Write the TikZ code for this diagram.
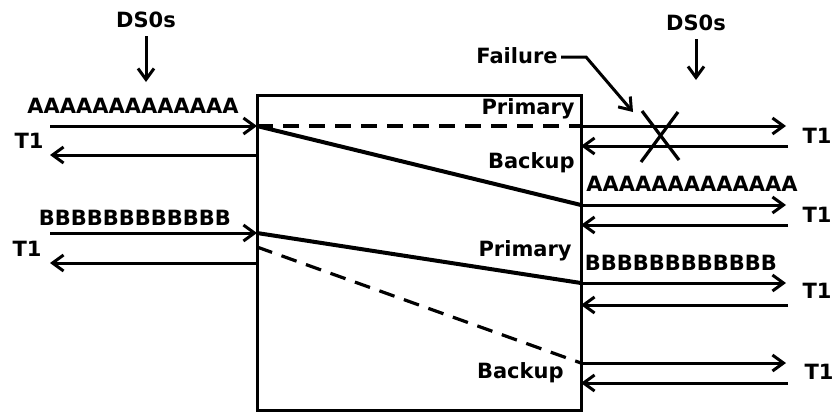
\documentclass[tikz,border=0pt]{standalone}
\usepackage{fontspec}
\setmainfont{DejaVu Sans}
\usetikzlibrary{arrows.meta, positioning, calc}

\tikzset{
  lbl/.style={font=\bfseries\fontsize{10.5}{12}\selectfont, inner sep=0pt},
  link/.style={line width=1.5pt, -{Straight Barb[length=5.5pt,width=8pt]}},
  route/.style={line width=2pt},
  spare/.style={line width=1.6pt, dash pattern=on 8pt off 5pt},
}

\begin{document}
\begin{tikzpicture}[x=0.5pt, y=-0.5pt]
    \useasboundingbox (0,0) rectangle (839,414);

    % Switch
    \draw[line width=1.5pt] (257,95) rectangle (581,410);

    % Ports on the switch
    \coordinate (inA) at (257,126);
    \coordinate (inAr) at (257,155);
    \coordinate (inB) at (257,233);
    \coordinate (inBr) at (257,263);
    \coordinate (out1) at (581,126);
    \coordinate (out1r) at (581,146);
    \coordinate (out2) at (581,205);
    \coordinate (out2r) at (581,225);
    \coordinate (out3) at (581,283);
    \coordinate (out3r) at (581,305);
    \coordinate (out4) at (581,363);
    \coordinate (out4r) at (581,383);
    \coordinate (bkB) at (257,247);

    % Left T1 lines
    \coordinate (tA) at (50,126);
    \coordinate (tAr) at (50,155);
    \coordinate (tB) at (50,233);
    \coordinate (tBr) at (50,263);
    \draw[link] (tA) -- (inA);
    \draw[link] (inAr) -- (tAr);
    \draw[link] (tB) -- (inB);
    \draw[link] (inBr) -- (tBr);

    \node[lbl] (ds0L) at (146,20) {DS0s};
    \coordinate (ds0Lend) at (146,82);
    \draw[link] (ds0L.south) ++(0,8) -- (ds0Lend);
    \node[lbl] (strA) at (133,106) {AAAAAAAAAAAAA};
    \node[lbl] (t1A) at (29,141) {T1};
    \node[lbl] (strB) at (135,218) {BBBBBBBBBBBB};
    \node[lbl] (t1B) at (27,249) {T1};

    % Right T1 lines
    \foreach \n/\y/\yr in {1/126/146, 2/205/225, 3/283/305, 4/363/383}{
        \coordinate (e\n) at (786,\y);
        \coordinate (e\n r) at (788,\yr);
        \draw[link] (out\n) -- (e\n);
        \draw[link] (e\n r) -- (out\n r);
    }
    \node[lbl] (t1R1) at (817,136) {T1};
    \node[lbl] (t1R2) at (817,215) {T1};
    \node[lbl] (t1R3) at (817,291) {T1};
    \node[lbl] (t1R4) at (819,372) {T1};

    \node[lbl] (ds0R) at (696,23) {DS0s};
    \coordinate (ds0Rend) at (696,80);
    \draw[link] (ds0R.south) ++(0,8) -- (ds0Rend);
    \node[lbl] (strAR) at (692,184) {AAAAAAAAAAAAA};
    \node[lbl] (strBR) at (681,263) {BBBBBBBBBBBB};

    % Paths through the switch
    \draw[spare] (inA) -- (out1);
    \draw[route] (inA) -- (out2);
    \draw[route] (inB) -- (out3);
    \draw[spare] (bkB) -- (out4);

    \node[lbl, anchor=east] (priA) at (575,109) {Primary};
    \node[lbl, anchor=east] (bkA) at (575,163) {Backup};
    \node[lbl, anchor=east] (priB) at (572,251) {Primary};
    \node[lbl, anchor=east] (bkBl) at (564,373) {Backup};

    % Failure
    \coordinate (cut) at (660,136);
    \draw[line width=1.6pt] ($(cut)+(-18,-25)$) -- ($(cut)+(19,24)$);
    \draw[line width=1.6pt] ($(cut)+(18,-24)$) -- ($(cut)+(-19,26)$);
    \node[lbl] (fail) at (517,56) {Failure};
    \coordinate (failtip) at (633,112);
    \draw[link] (fail.east) ++(3,1) -- ++(25,0) -- (failtip);
\end{tikzpicture}
\end{document}
